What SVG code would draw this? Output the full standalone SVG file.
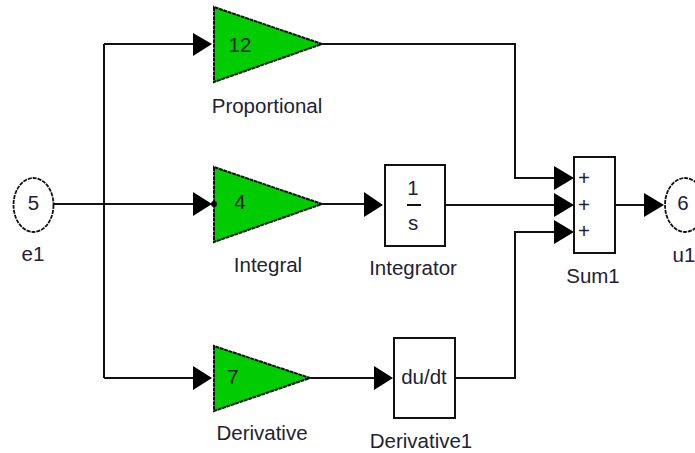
<svg xmlns="http://www.w3.org/2000/svg" width="695" height="453" viewBox="0 0 695 453">
<defs>
<style>
.w{fill:none;stroke:#111;stroke-width:2}
.a{fill:#000}
.g{fill:#00cc00;stroke:#111;stroke-width:2;stroke-dasharray:4 .6}
.b{fill:#fff;stroke:#111;stroke-width:2}
.c{fill:#fff;stroke:#111;stroke-width:1.8;stroke-dasharray:4 1}
text{font-family:"Liberation Sans",Arial,sans-serif;font-size:20.500px;fill:#223;text-anchor:middle}
</style>
</defs>
<rect width="695" height="453" fill="#fff"/>
<g id="connectors">
<path class="w" d="M54 204H195M104 44H195M104 378H195M104 44V378"/>
<path class="w" d="M323 44H515V178H555M323 204H365M445 205H555M311 378H375M456 378H515V232H555M615 205H645"/>
<path class="a" d="M193 33L212 44L193 56ZM193 192L212 204L193 216ZM193 366L212 378L193 390ZM364 192L383 205L364 217ZM374 366L393 378L374 390ZM554 166L574 178L554 190ZM554 193L574 205L554 217ZM554 220L574 232L554 244ZM644 193L664 205L644 217Z"/>
</g>
<g id="e1"><ellipse class="c" cx="33.500" cy="205" rx="20" ry="27"/><text x="33.500" y="210">5</text><text x="33" y="261">e1</text></g>
<g id="Proportional"><path class="g" d="M214 7V82L322 44Z"/><text x="240" y="52">12</text><text x="267" y="113">Proportional</text></g>
<g id="Integral"><path class="g" d="M214 167V242L322 204Z"/><circle class="a" cx="214" cy="204" r="3"/><text x="240" y="209">4</text><text x="268" y="272">Integral</text></g>
<g id="Derivative"><path class="g" d="M214 346V411L310 378Z"/><text x="233" y="384">7</text><text x="262" y="440">Derivative</text></g>
<g id="Integrator"><rect class="b" x="385" y="165" width="60" height="81"/><text x="413" y="195">1</text><path d="M407 205H421" stroke="#111" stroke-width="2"/><text x="413" y="230">s</text><text x="413" y="275">Integrator</text></g>
<g id="Derivative1"><rect class="b" x="394" y="338" width="61" height="80"/><text x="424" y="384">du/dt</text><text x="421" y="448">Derivative1</text></g>
<g id="Sum1"><rect class="b" x="574" y="157" width="41" height="96"/><text x="584" y="185">+</text><text x="584" y="212">+</text><text x="584" y="238">+</text><text x="593" y="283">Sum1</text></g>
<g id="u1"><ellipse class="c" cx="685" cy="205" rx="20" ry="27"/><text x="683" y="210">6</text><text x="684" y="262">u1</text></g>
</svg>
